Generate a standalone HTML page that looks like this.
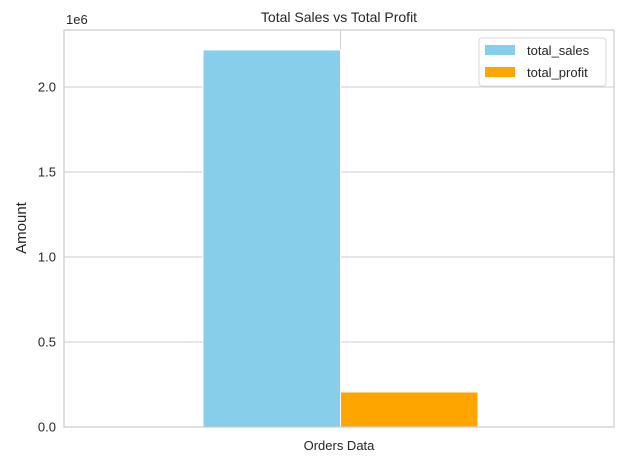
<!DOCTYPE html>
<html><head><meta charset="utf-8"><style>
body{margin:0;background:#fff;font-family:"Liberation Sans","DejaVu Sans",sans-serif;}
svg text{fill:#262626;}
</style></head><body>
<svg width="623" height="464" viewBox="0 0 623 464">
<g id="grid"></g>
<g id="bars"></g>
<rect x="64" y="30" width="550" height="397" fill="none" stroke="#cccccc" stroke-width="1.25"/>
<g id="yticks"></g>
<text x="66" y="24" font-size="13">1e6</text>
<text x="339" y="22" font-size="14" text-anchor="middle">Total Sales vs Total Profit</text>
<text x="26" y="228" font-size="15" text-anchor="middle" transform="rotate(-90 26 228)">Amount</text>
<text x="339" y="450" font-size="13" text-anchor="middle">Orders Data</text>
<g>
<rect x="479" y="38" width="127" height="48" rx="3" fill="#fff" fill-opacity="0.8" stroke="#d8d8d8"/>
<rect x="485" y="45" width="30" height="10" fill="#87CEEB"/>
<text x="527" y="55" font-size="13">total_sales</text>
<rect x="485" y="67" width="30" height="10" fill="#FFA500"/>
<text x="527" y="77" font-size="13">total_profit</text>
</g>
</svg>
<script>
const series = ["total_sales","total_profit"];
const values = [2218000, 206000];
const colors = ["#87CEEB","#FFA500"];
const ticks = [0, 0.5, 1.0, 1.5, 2.0];
const tickLabels = ["0.0","0.5","1.0","1.5","2.0"];
const NS="http://www.w3.org/2000/svg";
const y0=427, pxPerUnit=170; // per 1e6
function y(v){return y0 - v/1e6*pxPerUnit;}
const grid=document.getElementById('grid'), yt=document.getElementById('yticks'), bars=document.getElementById('bars');
ticks.forEach((t,i)=>{
  const l=document.createElementNS(NS,'line');
  l.setAttribute('x1',64);l.setAttribute('x2',614);l.setAttribute('y1',y(t*1e6));l.setAttribute('y2',y(t*1e6));
  l.setAttribute('stroke','#cccccc');
  
  
  grid.appendChild(l);
  const tx=document.createElementNS(NS,'text');
  tx.setAttribute('x',56);tx.setAttribute('y',y(t*1e6)+4.5);tx.setAttribute('font-size','13');tx.setAttribute('text-anchor','end');
  tx.textContent=tickLabels[i];
  
  
  yt.appendChild(tx);
});
const vl=document.createElementNS(NS,'line');
vl.setAttribute('x1',340.5);vl.setAttribute('x2',340.5);vl.setAttribute('y1',30);vl.setAttribute('y2',427);vl.setAttribute('stroke','#cccccc');


grid.appendChild(vl);
const bw=137.5, cx=340.5;
values.forEach((v,i)=>{
  const r=document.createElementNS(NS,'rect');
  const x=cx-bw+i*bw;
  r.setAttribute('x',x);r.setAttribute('width',bw);r.setAttribute('y',y(v));r.setAttribute('height',y0-y(v));
  r.setAttribute('fill',colors[i]);r.setAttribute('stroke','#fff');r.setAttribute('stroke-width','1');
  
  
  bars.appendChild(r);
});
</script>
</body></html>
